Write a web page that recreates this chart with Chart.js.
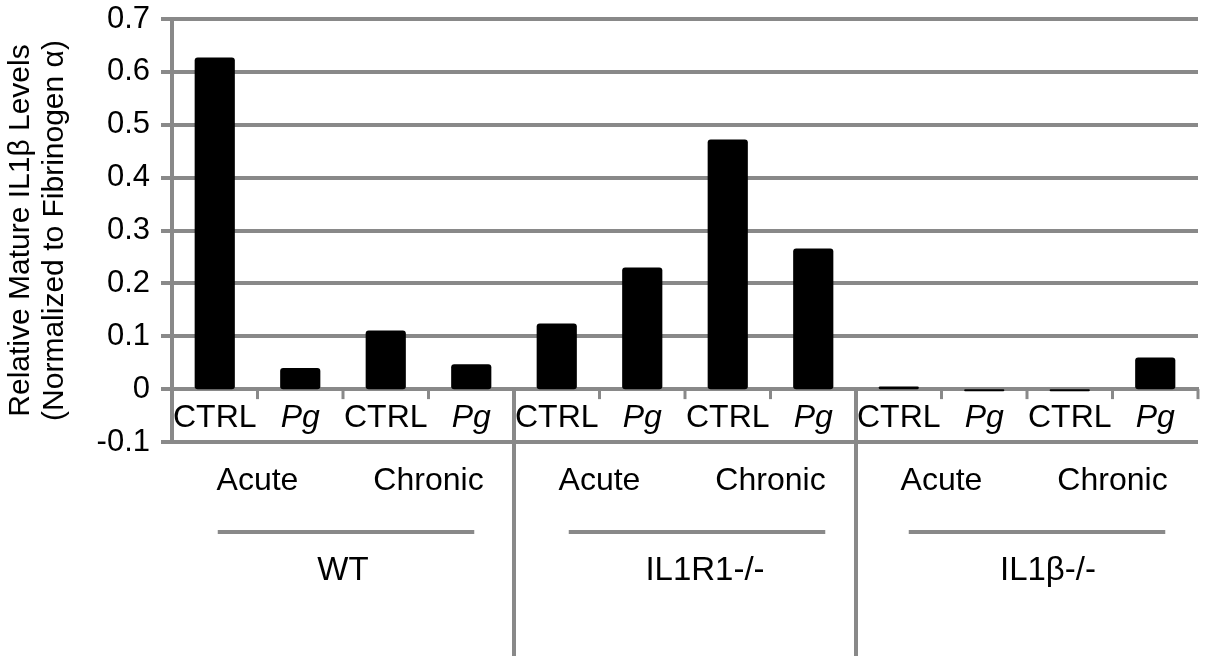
<!DOCTYPE html>
<html>
<head>
<meta charset="utf-8">
<script src="https://cdn.jsdelivr.net/npm/chart.js@4.4.1/dist/chart.umd.min.js"></script>
<style>
html, body { margin: 0; padding: 0; background: #fff; }
#wrap { width: 1208px; height: 656px; }
</style>
</head>
<body>
<div id="wrap"><canvas id="myChart"></canvas></div>
<script>
const conditions = ["CTRL", "Pg", "CTRL", "Pg", "CTRL", "Pg", "CTRL", "Pg", "CTRL", "Pg", "CTRL", "Pg"];
const il1bLevels = [0.627, 0.040, 0.111, 0.047, 0.124, 0.230, 0.472, 0.266, 0.005, -0.004, -0.004, 0.060];
const periods = ["Acute", "Chronic"];
const groups = ["WT", "IL1R1-/-", "IL1\u03b2-/-"];
const yMin = -0.1, yMax = 0.7, yStep = 0.1;

const FONT = "'Liberation Sans', Arial, sans-serif";
const GRAY = "#898989";

// tick marks under the zero axis, Acute/Chronic, group lines, group names, separators
const groupLabels = {
    id: "groupLabels",
    afterDraw(chart) {
        const ctx = chart.ctx;
        const x = chart.scales.x, y = chart.scales.y;
        const step = x.getPixelForValue(1) - x.getPixelForValue(0);
        const zero = y.getPixelForValue(0);
        const perGroup = periods.length * 2;
        const lineShift = [3, 12, 10];
        const nameShift = [0, 20, 21];

        ctx.save();
        ctx.strokeStyle = GRAY;
        ctx.lineCap = "butt";
        ctx.lineWidth = 3;
        for (let i = 1; i <= conditions.length; i++) {
            const tx = x.getPixelForValue(i - 1) + step / 2;
            ctx.beginPath();
            ctx.moveTo(tx, zero);
            ctx.lineTo(tx, zero + 10);
            ctx.stroke();
        }

        ctx.lineWidth = 4;
        ctx.fillStyle = "#000";
        ctx.textAlign = "center";
        ctx.textBaseline = "middle";
        groups.forEach((g, gi) => {
            const first = gi * perGroup;
            ctx.font = "32px " + FONT;
            periods.forEach((p, pi) => {
                const a = x.getPixelForValue(first + pi * 2);
                const b = x.getPixelForValue(first + pi * 2 + 1);
                ctx.fillText(p, (a + b) / 2, 481);
            });
            const l = x.getPixelForValue(first);
            const r = x.getPixelForValue(first + perGroup - 1);
            ctx.beginPath();
            ctx.moveTo(l + lineShift[gi], 532);
            ctx.lineTo(r + lineShift[gi], 532);
            ctx.stroke();
            ctx.font = "33px " + FONT;
            ctx.fillText(g, (l + r) / 2 + nameShift[gi], 571);
            if (gi < groups.length - 1) {
                const sx = r + step / 2;
                ctx.beginPath();
                ctx.moveTo(sx, zero);
                ctx.lineTo(sx, chart.height);
                ctx.stroke();
            }
        });
        ctx.restore();
    }
};

let myChart = document.getElementById("myChart").getContext("2d");
let il1bChart = new Chart(myChart, {
    type: "bar",
    data: {
        labels: conditions,
        datasets: [{
            data: il1bLevels,
            backgroundColor: "#000",
            borderRadius: 3,
            borderSkipped: false,
            barPercentage: 0.47,
            categoryPercentage: 1
        }]
    },
    options: {
        responsive: true,
        maintainAspectRatio: false,
        animation: false,
        layout: { padding: { top: 19, right: 10, bottom: 214, left: 0 } },
        plugins: {
            legend: { display: false },
            tooltip: { enabled: false }
        },
        scales: {
            x: {
                position: { y: 0 },
                grid: { display: false, tickLength: 10 },
                border: { color: GRAY, width: 4 },
                ticks: {
                    color: "#000",
                    padding: 0,
                    maxRotation: 0,
                    autoSkip: false,
                    font: function(context) {
                        const lab = conditions[context.index];
                        return { family: FONT, size: 32, style: lab === "Pg" ? "italic" : "normal" };
                    }
                }
            },
            y: {
                min: yMin,
                max: yMax,
                afterFit: function(scale) {
                    scale.width = 172;
                    scale.paddingTop = 0;
                    scale.paddingBottom = 0;
                },
                grid: {
                    color: GRAY,
                    lineWidth: 4,
                    tickLength: 11
                },
                border: { color: GRAY, width: 4 },
                ticks: {
                    stepSize: yStep,
                    color: "#000",
                    padding: 11,
                    font: { family: FONT, size: 31 },
                    callback: function(value) {
                        return String(+value.toFixed(1));
                    }
                },
                title: {
                    display: true,
                    text: ["Relative Mature IL1\u03b2 Levels", "(Normalized to Fibrinogen \u03b1)"],
                    color: "#000",
                    font: { family: FONT, size: 30, lineHeight: 1.12 },
                    padding: { top: 4, bottom: 0 }
                }
            }
        }
    },
    plugins: [groupLabels]
});
</script>
</body>
</html>
